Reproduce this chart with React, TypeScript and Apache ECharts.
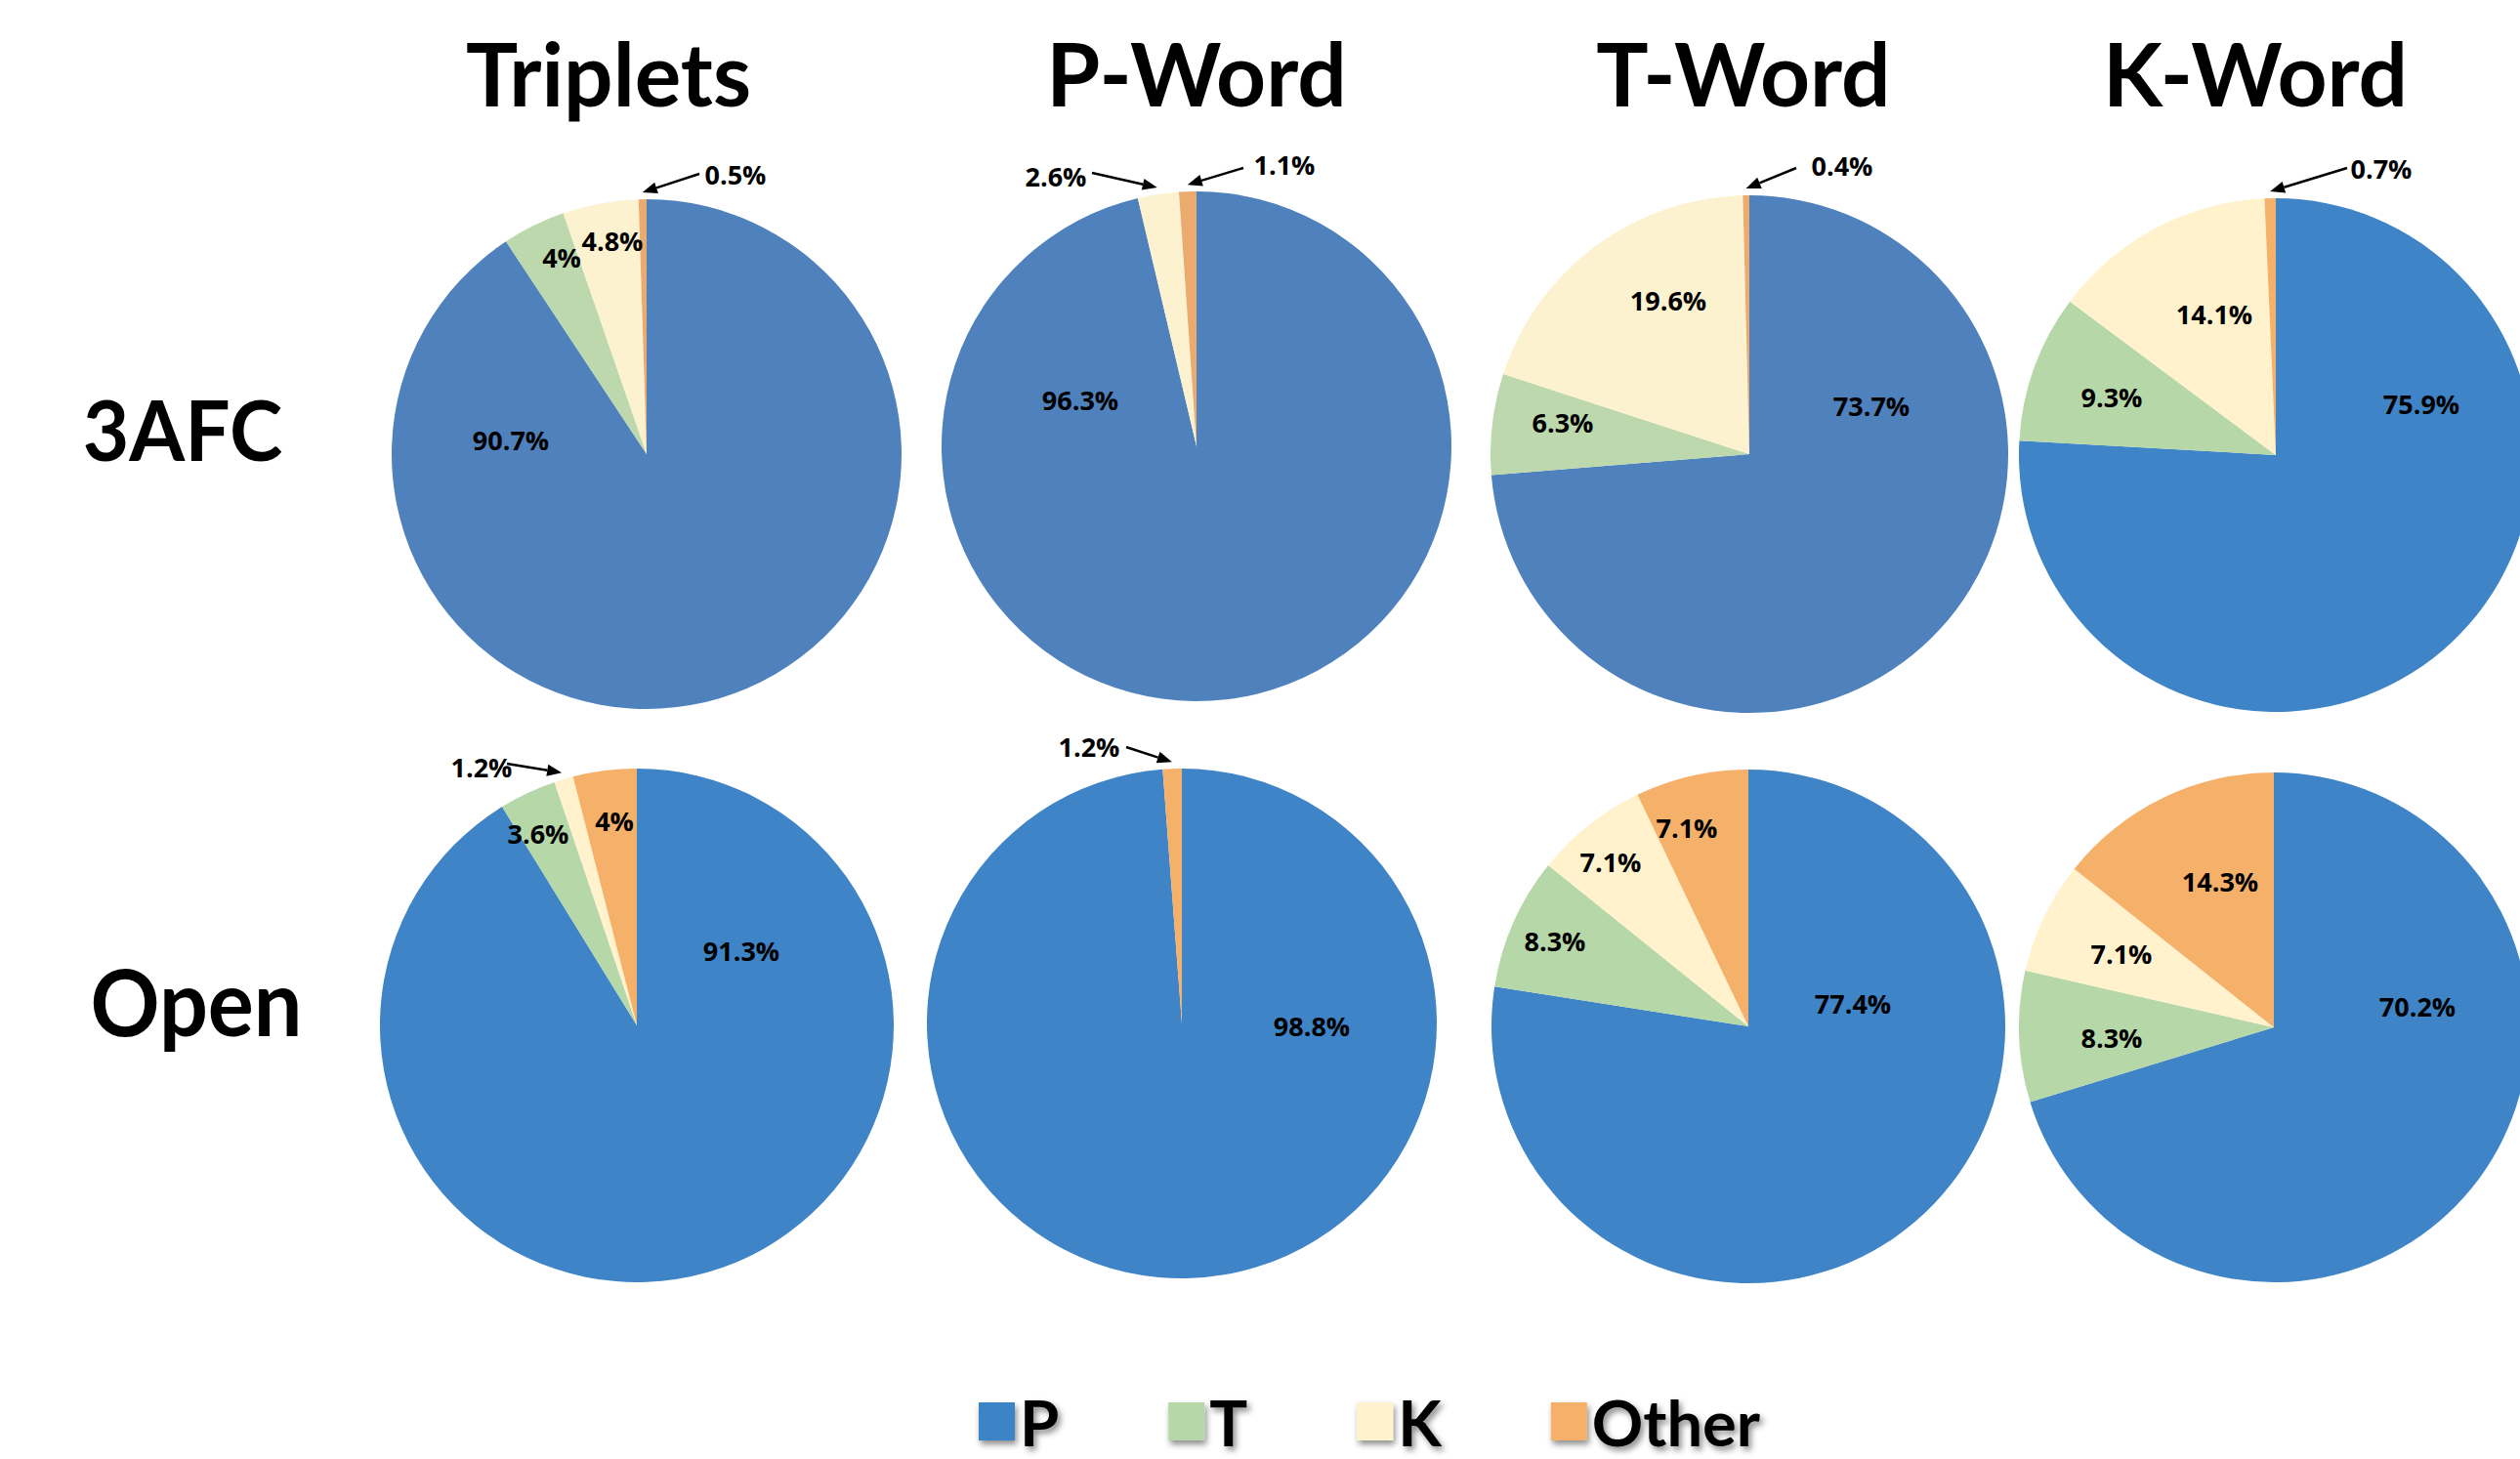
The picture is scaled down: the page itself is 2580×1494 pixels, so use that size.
import React, { useEffect, useRef } from 'react';
import * as echarts from 'echarts';

// ---------- data ----------
const CATEGORIES = ['P', 'T', 'K', 'Other'];
const CONDITIONS = ['Triplets', 'P-Word', 'T-Word', 'K-Word'];
const TASKS = ['3AFC', 'Open'];

const AFC_TRIPLETS = [90.7, 4, 4.8, 0.5];
const AFC_PWORD = [96.3, 0, 2.6, 1.1];
const AFC_TWORD = [73.7, 6.3, 19.6, 0.4];
const AFC_KWORD = [75.9, 9.3, 14.1, 0.7];
const OPEN_TRIPLETS = [91.3, 3.6, 1.2, 4];
const OPEN_PWORD = [98.8, 0, 0, 1.2];
const OPEN_TWORD = [77.4, 8.3, 7.1, 7.1];
const OPEN_KWORD = [70.2, 8.3, 7.1, 14.3];

const PIE_VALUES = [
  AFC_TRIPLETS, AFC_PWORD, AFC_TWORD, AFC_KWORD,
  OPEN_TRIPLETS, OPEN_PWORD, OPEN_TWORD, OPEN_KWORD,
];

// ---------- layout / style ----------
const PIE_CENTERS = [
  [662, 465], [1225, 457], [1791, 465], [2330, 466],
  [652, 1050], [1210, 1048], [1790, 1051], [2328, 1052],
];
const PIE_RADII = [261, 261, 265, 263, 263, 261, 263, 261];
const FADED = ['#4F81BD', '#BCD8AC', '#FDF2D0', '#EBAA6E'];
const BRIGHT = ['#3E84C6', '#B6D7A8', '#FFF2CC', '#F5B06A'];
const PIE_PALETTE = [FADED, FADED, FADED, BRIGHT, BRIGHT, BRIGHT, BRIGHT, BRIGHT];

// label offsets relative to pie centre (null = no label)
const LABEL_OFFSETS: (number[] | null)[][] = [
  [[-139, -15], [-87, -202], [-35, -219], [91, -287]],
  [[-119, -48], null, [-144, -277], [90, -289]],
  [[125, -50], [-191, -33], [-83, -158], [95, -296]],
  [[149, -53], [-168, -60], [-63, -145], [108, -294]],
  [[107, -77], [-101, -197], [-159, -265], [-23, -210]],
  [[133, 2], null, null, [-95, -284]],
  [[107, -24], [-198, -88], [-141, -169], [-63, -204]],
  [[147, -22], [-166, 10], [-156, -76], [-55, -150]],
];

// callout arrows: [pie index, slice index, tail dx, tail dy (relative to pie centre)]
const CALLOUTS = [
  [0, 3, 54, -287],
  [1, 2, -107, -280],
  [1, 3, 48, -285],
  [2, 3, 48, -293],
  [3, 3, 73, -294],
  [4, 2, -133, -268],
  [5, 3, -57, -283],
];

const TITLE_X = [623, 1225, 1785, 2309];
const TITLE_Y = 74;
const ROW_LABEL_POS = [[187, 439], [201, 1025]];
const ROW_LABEL_SIZE = [82, 88];

const FONT = 'Lato';
const LABEL_FONT = 'Open Sans';

function sliceTip(p: number, s: number, gap: number) {
  const vals = PIE_VALUES[p];
  const total = vals.reduce((a, b) => a + b, 0);
  let cum = 0;
  for (let i = 0; i < s; i++) cum += vals[i];
  const theta = ((cum + vals[s] / 2) / total) * 2 * Math.PI;
  const [cx, cy] = PIE_CENTERS[p];
  const r = PIE_RADII[p] + gap;
  return [cx + r * Math.sin(theta), cy - r * Math.cos(theta)];
}

function buildArrows() {
  const els: any[] = [];
  CALLOUTS.forEach(([p, s, tdx, tdy]) => {
    const [cx, cy] = PIE_CENTERS[p];
    const tail = [cx + tdx, cy + tdy];
    const tip = sliceTip(p, s, 7);
    const dx = tip[0] - tail[0];
    const dy = tip[1] - tail[1];
    const len = Math.sqrt(dx * dx + dy * dy);
    const ux = dx / len;
    const uy = dy / len;
    const L = 15;
    const W = 6;
    const bx = tip[0] - ux * L;
    const by = tip[1] - uy * L;
    els.push({
      type: 'line',
      z: 20,
      shape: { x1: tail[0], y1: tail[1], x2: bx, y2: by },
      style: { stroke: '#000', lineWidth: 2.5 },
    });
    els.push({
      type: 'polygon',
      z: 20,
      shape: {
        points: [
          [tip[0], tip[1]],
          [bx - uy * W, by + ux * W],
          [bx + uy * W, by - ux * W],
        ],
      },
      style: { fill: '#000' },
    });
  });
  return els;
}

export default function App() {
  const ref = useRef<HTMLDivElement>(null);

  useEffect(() => {
    if (!ref.current) return;
    const chart = echarts.init(ref.current, undefined, { renderer: 'svg' });

    const graphics: any[] = [];
    CONDITIONS.forEach((t, i) => {
      graphics.push({
        type: 'text',
        z: 20,
        x: TITLE_X[i],
        y: TITLE_Y,
        style: {
          text: t,
          fill: '#000',
          fontFamily: FONT,
          fontWeight: 'bold',
          fontSize: 89,
          align: 'center',
          verticalAlign: 'middle',
        },
      });
    });
    TASKS.forEach((t, i) => {
      graphics.push({
        type: 'text',
        z: 20,
        x: ROW_LABEL_POS[i][0],
        y: ROW_LABEL_POS[i][1],
        scaleY: 1.06,
        style: {
          text: t,
          fill: '#000',
          fontFamily: FONT,
          fontWeight: 'bold',
          fontSize: ROW_LABEL_SIZE[i],
          align: 'center',
          verticalAlign: 'middle',
        },
      });
    });
    graphics.push(...buildArrows());

    const option: any = {
      animation: false,
      backgroundColor: '#ffffff',
      legend: {
        show: true,
        left: 997,
        top: 1418,
        orient: 'horizontal',
        itemGap: 112,
        itemWidth: 37,
        itemHeight: 39,
        icon: 'rect',
        selectedMode: false,
        textStyle: {
          fontFamily: FONT,
          fontWeight: 'bold',
          fontSize: 65,
          lineHeight: 60,
          color: '#000',
          textShadowColor: 'rgba(0,0,0,0.45)',
          textShadowBlur: 6,
          textShadowOffsetX: 3,
          textShadowOffsetY: 4,
        },
        data: CATEGORIES.map((c, i) => ({
          name: c,
          itemStyle: {
            color: BRIGHT[i],
            shadowBlur: 6,
            shadowColor: 'rgba(0,0,0,0.45)',
            shadowOffsetX: 2,
            shadowOffsetY: 4,
          },
        })),
      },
      graphic: graphics,
      series: PIE_VALUES.map((vals, p) => ({
        type: 'pie',
        name: `${TASKS[p < 4 ? 0 : 1]} ${CONDITIONS[p % 4]}`,
        center: PIE_CENTERS[p],
        radius: PIE_RADII[p],
        startAngle: 90,
        clockwise: true,
        avoidLabelOverlap: false,
        minShowLabelAngle: 0,
        silent: true,
        emphasis: { disabled: true },
        itemStyle: { borderWidth: 0 },
        label: {
          show: true,
          position: 'inside',
          formatter: '{c}%',
          fontFamily: LABEL_FONT,
          fontWeight: 'bold',
          fontSize: 27,
          color: '#000',
          textBorderWidth: 0,
        },
        labelLine: { show: false },
        labelLayout: (params: any) => {
          const off = LABEL_OFFSETS[p][params.dataIndex];
          if (!off) return {};
          const [cx, cy] = PIE_CENTERS[p];
          return { x: cx + off[0], y: cy + off[1], align: 'center', verticalAlign: 'middle' };
        },
        data: vals.map((v, i) => ({
          name: CATEGORIES[i],
          value: v,
          itemStyle: { color: PIE_PALETTE[p][i] },
          label: { show: LABEL_OFFSETS[p][i] != null },
        })),
      })),
    };

    chart.setOption(option);
    return () => chart.dispose();
  }, []);

  return (
    <div
      ref={ref}
      style={{ position: 'absolute', left: 0, top: 0, width: 2580, height: 1494 }}
    />
  );
}
